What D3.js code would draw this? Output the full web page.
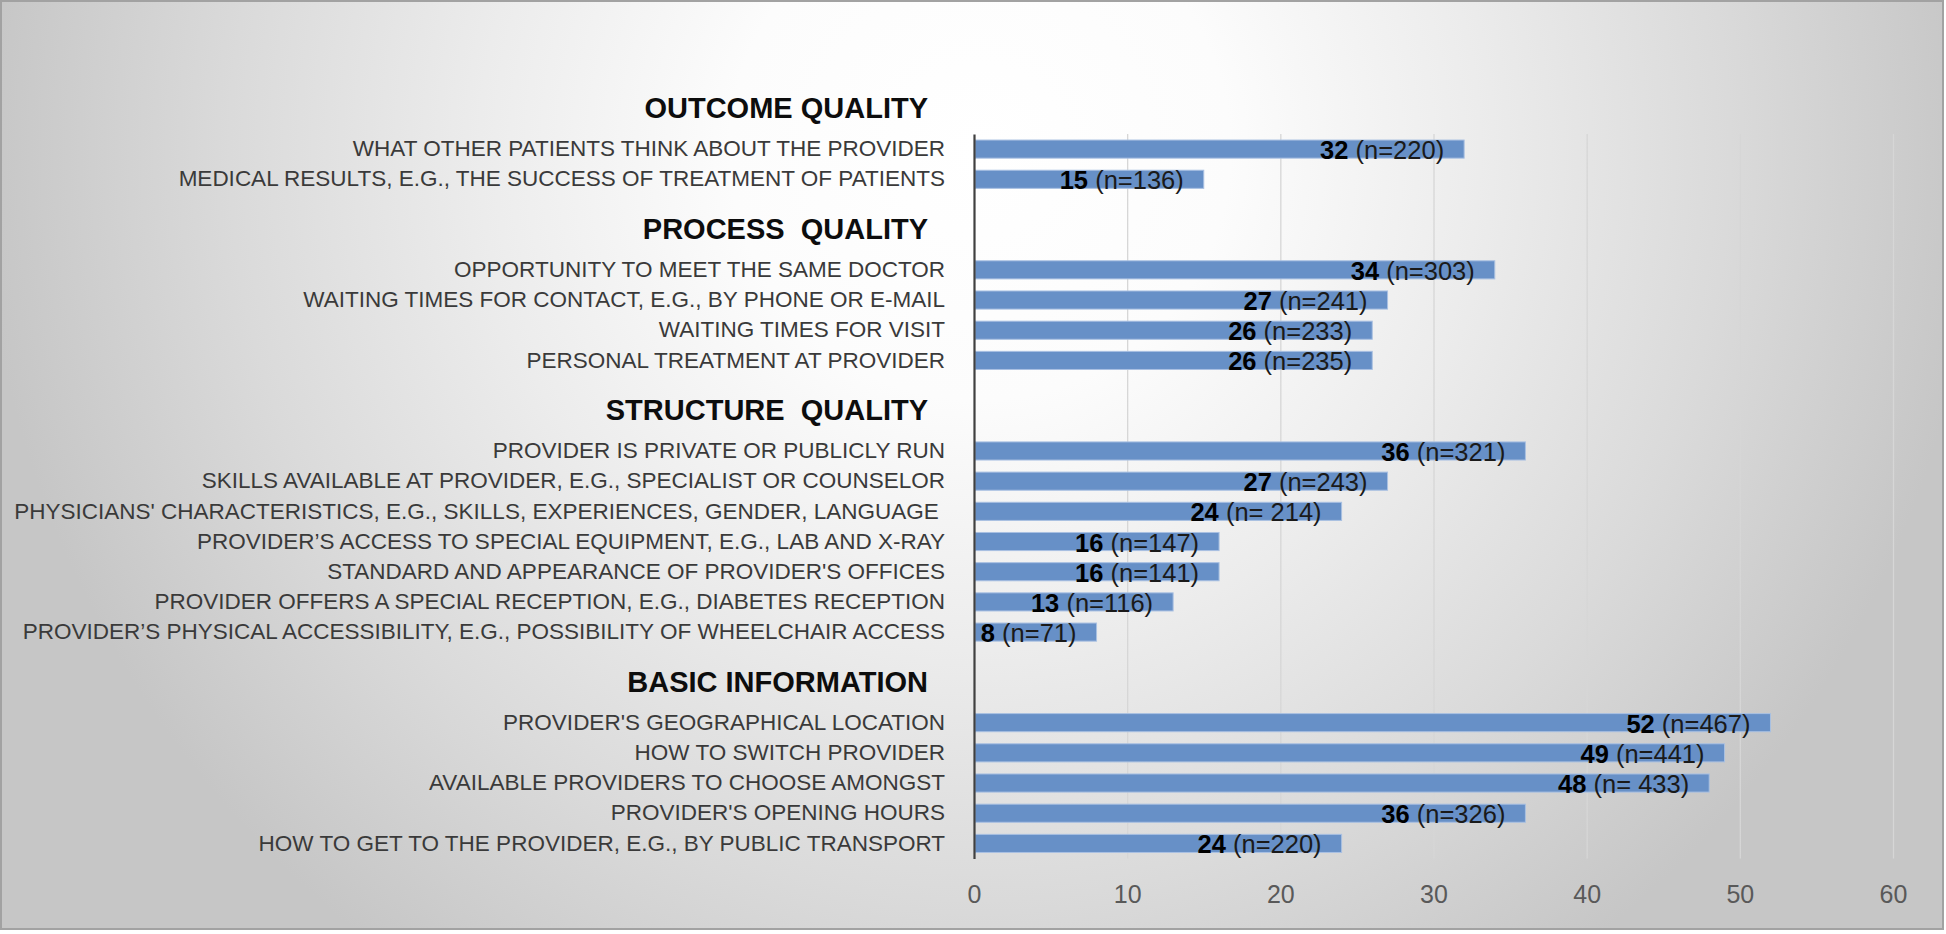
<!DOCTYPE html>
<html>
<head>
<meta charset="utf-8">
<script src="https://cdn.jsdelivr.net/npm/d3@7"></script>
<style>
  html, body { margin: 0; padding: 0; background: #ffffff; }
  svg { display: block; }
  text { font-family: 'Liberation Sans', Arial, sans-serif; }
</style>
</head>
<body>
<div id="chart"></div>
<script>
// ---------------- DATA ----------------
const groupTitles = ["OUTCOME QUALITY", "PROCESS  QUALITY", "STRUCTURE  QUALITY", "BASIC INFORMATION"];

const outcomeItems = [
  "WHAT OTHER PATIENTS THINK ABOUT THE PROVIDER",
  "MEDICAL RESULTS, E.G., THE SUCCESS OF TREATMENT OF PATIENTS"
];
const outcomeValues = [32, 15];
const outcomeN = ["(n=220)", "(n=136)"];

const processItems = [
  "OPPORTUNITY TO MEET THE SAME DOCTOR",
  "WAITING TIMES FOR CONTACT, E.G., BY PHONE OR E-MAIL",
  "WAITING TIMES FOR VISIT",
  "PERSONAL TREATMENT AT PROVIDER"
];
const processValues = [34, 27, 26, 26];
const processN = ["(n=303)", "(n=241)", "(n=233)", "(n=235)"];

const structureItems = [
  "PROVIDER IS PRIVATE OR PUBLICLY RUN",
  "SKILLS AVAILABLE AT PROVIDER, E.G., SPECIALIST OR COUNSELOR",
  "PHYSICIANS' CHARACTERISTICS, E.G., SKILLS, EXPERIENCES, GENDER, LANGUAGE ",
  "PROVIDER\u2019S ACCESS TO SPECIAL EQUIPMENT, E.G., LAB AND X-RAY",
  "STANDARD AND APPEARANCE OF PROVIDER'S OFFICES",
  "PROVIDER OFFERS A SPECIAL RECEPTION, E.G., DIABETES RECEPTION",
  "PROVIDER\u2019S PHYSICAL ACCESSIBILITY, E.G., POSSIBILITY OF WHEELCHAIR ACCESS"
];
const structureValues = [36, 27, 24, 16, 16, 13, 8];
const structureN = ["(n=321)", "(n=243)", "(n= 214)", "(n=147)", "(n=141)", "(n=116)", "(n=71)"];

const basicItems = [
  "PROVIDER'S GEOGRAPHICAL LOCATION",
  "HOW TO SWITCH PROVIDER",
  "AVAILABLE PROVIDERS TO CHOOSE AMONGST",
  "PROVIDER'S OPENING HOURS",
  "HOW TO GET TO THE PROVIDER, E.G., BY PUBLIC TRANSPORT"
];
const basicValues = [52, 49, 48, 36, 24];
const basicN = ["(n=467)", "(n=441)", "(n= 433)", "(n=326)", "(n=220)"];

const xTicks = [0, 10, 20, 30, 40, 50, 60];
const xMax = 60;

// ---------------- LAYOUT ----------------
const W = 1946, H = 934;
const plot = { left: 974, right: 1893, top: 134, bottom: 858.5 };

const groups = [
  { items: outcomeItems, values: outcomeValues, n: outcomeN },
  { items: processItems, values: processValues, n: processN },
  { items: structureItems, values: structureValues, n: structureN },
  { items: basicItems, values: basicValues, n: basicN }
];

const rows = [];
const firstKeys = [];
groups.forEach((g, gi) => {
  if (gi > 0) {
    rows.push({ key: "blank" + gi, type: "blank", label: "" });
    rows.push({ key: "head" + gi, type: "header", label: "" });
  }
  g.items.forEach((it, i) => {
    const key = "g" + gi + "i" + i;
    if (i === 0) firstKeys.push(key);
    rows.push({ key, type: "item", label: it, value: g.values[i], n: g.n[i] });
  });
});
const rowByKey = new Map(rows.map(r => [r.key, r]));

const svg = d3.select("#chart").append("svg")
  .attr("width", W).attr("height", H);

const defs = svg.append("defs");
const bg = defs.append("radialGradient").attr("id", "bgGrad")
  .attr("gradientUnits", "userSpaceOnUse")
  .attr("cx", 980).attr("cy", 150).attr("r", 1000);
[[0, "#ffffff"], [0.25, "#fcfcfc"], [0.5, "#ececec"], [0.75, "#dadada"], [1, "#c6c6c6"]]
  .forEach(([o, c]) => bg.append("stop").attr("offset", o).attr("stop-color", c));

const gg = defs.append("linearGradient").attr("id", "gridGrad")
  .attr("gradientUnits", "userSpaceOnUse")
  .attr("x1", 0).attr("y1", plot.top).attr("x2", 0).attr("y2", plot.bottom);
gg.append("stop").attr("offset", 0).attr("stop-color", "#d6d6d6");
gg.append("stop").attr("offset", 1).attr("stop-color", "#828282");

// background + frame
svg.append("rect")
  .attr("x", 1).attr("y", 1).attr("width", 1942).attr("height", 928)
  .attr("fill", "url(#bgGrad)")
  .attr("stroke", "#a2a2a2").attr("stroke-width", 2);

const x = d3.scaleLinear().domain([0, xMax]).range([plot.left, plot.right]);
const y = d3.scaleBand().domain(rows.map(r => r.key))
  .range([plot.top, plot.bottom]).paddingInner(0.4).paddingOuter(0.2);

// gridlines + tick labels
const xAxis = d3.axisBottom(x).tickValues(xTicks).tickFormat(d3.format("d"))
  .tickSize(-(plot.bottom - plot.top)).tickSizeOuter(0).tickPadding(27);
const gx = svg.append("g").attr("transform", `translate(0,${plot.bottom})`).call(xAxis);
gx.select(".domain").remove();
gx.selectAll(".tick line")
  .attr("stroke", "url(#gridGrad)").attr("stroke-width", 1.3)
  .attr("display", d => d === 0 ? "none" : null);
gx.selectAll(".tick text")
  .attr("fill", "#595959").attr("font-size", 25)
  .style("font-family", "'Liberation Sans', Arial, sans-serif");

// bars
svg.append("g").selectAll("rect")
  .data(rows.filter(r => r.type === "item"))
  .join("rect")
  .attr("x", x(0) + 1)
  .attr("y", d => y(d.key))
  .attr("width", d => x(d.value) - x(0) - 1)
  .attr("height", y.bandwidth())
  .attr("fill", "#6790c7")
  .attr("stroke", "#a9c0e2").attr("stroke-width", 1);

// vertical axis line + category labels
const yAxis = d3.axisLeft(y).tickSize(0).tickPadding(29)
  .tickFormat(k => rowByKey.get(k).label);
const gy = svg.append("g").attr("transform", `translate(${x(0)},0)`).call(yAxis);
gy.select(".domain").attr("stroke", "#404040").attr("stroke-width", 2.2);
gy.selectAll(".tick text")
  .attr("fill", "#3a3a3a").attr("font-size", 22.5)
  .style("white-space", "pre")
  .style("font-family", "'Liberation Sans', Arial, sans-serif");

// group headers
svg.append("g").selectAll("text")
  .data(groupTitles)
  .join("text")
  .attr("x", 928)
  .attr("y", (d, i) => y(firstKeys[i]) + y.bandwidth() / 2 - y.step() - 11)
  .attr("dy", "0.36em")
  .attr("text-anchor", "end")
  .attr("font-size", 29).attr("font-weight", "bold").attr("fill", "#0d0d0d")
  .style("white-space", "pre")
  .text(d => d);

// value labels
const vl = svg.append("g").selectAll("text")
  .data(rows.filter(r => r.type === "item"))
  .join("text")
  .attr("x", d => x(d.value) - 20)
  .attr("y", d => y(d.key) + y.bandwidth() / 2 + 10)
  .attr("text-anchor", "end")
  .attr("font-size", 25.5).attr("fill", "#000")
  .style("white-space", "pre");
vl.append("tspan").attr("font-weight", "bold").text(d => d.value);
vl.append("tspan").attr("fill", "#1a1a1a").text(d => " " + d.n);
</script>
</body>
</html>
